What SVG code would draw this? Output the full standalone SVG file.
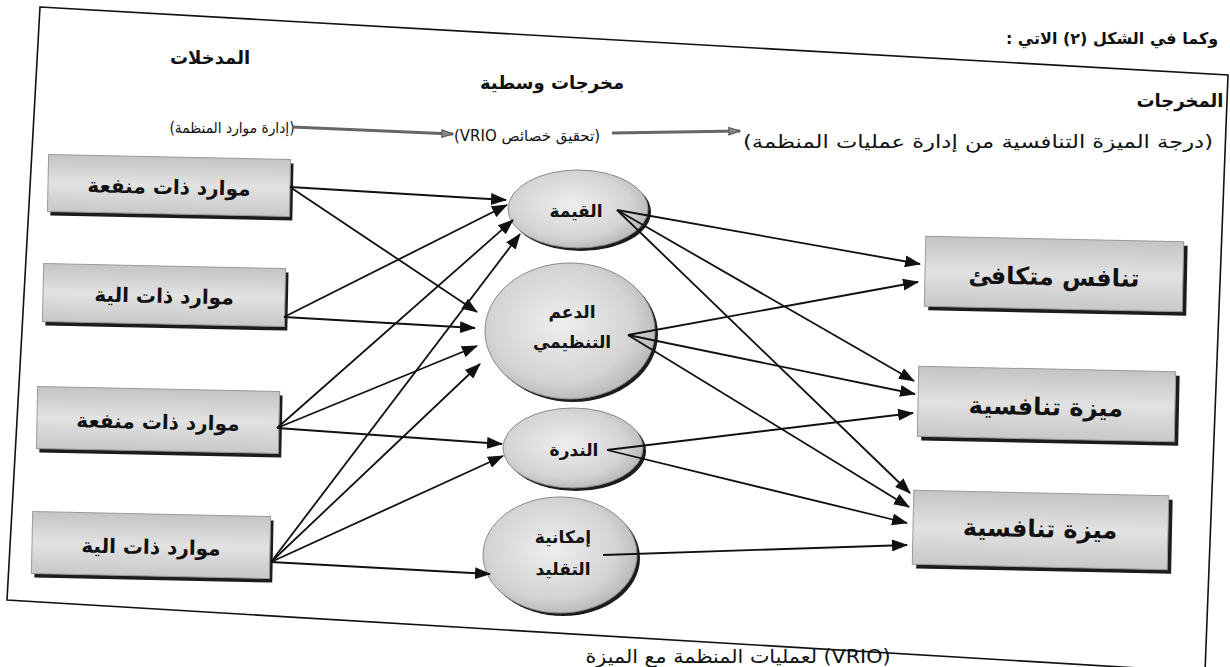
<svg xmlns="http://www.w3.org/2000/svg" width="1230" height="667" viewBox="0 0 1230 667">
<defs>
<linearGradient id="boxGrad" x1="0" y1="0" x2="0" y2="1">
<stop offset="0" stop-color="#c4c4c4"/>
<stop offset="0.5" stop-color="#e2e2e2"/>
<stop offset="1" stop-color="#c8c8c8"/>
</linearGradient>
<radialGradient id="ellGrad" cx="0.45" cy="0.45" r="0.6">
<stop offset="0" stop-color="#eeeeee"/>
<stop offset="0.7" stop-color="#d4d4d4"/>
<stop offset="1" stop-color="#b4b4b4"/>
</radialGradient>
<marker id="arr" viewBox="0 0 16 12" refX="15" refY="6" markerWidth="16" markerHeight="12" markerUnits="userSpaceOnUse" orient="auto">
<path d="M0,0 L16,6 L0,12 z" fill="#111"/>
</marker>
<marker id="garr" viewBox="0 0 14 10" refX="13" refY="5" markerWidth="13" markerHeight="10" markerUnits="userSpaceOnUse" orient="auto">
<path d="M1,1 L13,5 L1,9 z" fill="#888" stroke="#555" stroke-width="1.2"/>
</marker>
</defs>
<style>
.ar{font-family:"DejaVu Sans","Noto Sans",sans-serif;fill:#111;direction:rtl;text-anchor:middle}
.hd{font-size:18px;font-weight:bold}
.sub{font-size:15px}
.lt{font-size:20px;font-weight:bold}
.rt{font-size:24px;font-weight:bold}
.et{font-size:17px;font-weight:bold}
.shadow{fill:#1c1c1c}
.box{fill:url(#boxGrad);stroke:#9a9a9a;stroke-width:1}
.ell{fill:url(#ellGrad);stroke:#8a8a8a;stroke-width:1}
.conn line{stroke:#111;stroke-width:1.8;marker-end:url(#arr)}
.top line{stroke:#666;stroke-width:3;marker-end:url(#garr)}
</style>
<rect x="0" y="0" width="1230" height="667" fill="#ffffff"/>
<polygon id="frame" points="40,7 1228,75 1205,672 7,600" fill="none" stroke="#111" stroke-width="1.6"/>

<g id="headers">
<text class="ar hd" x="1112" y="44" style="font-size:16px">وكما في الشكل (٢) الاتي :</text>
<text class="ar hd" x="210" y="64">المدخلات</text>
<text class="ar hd" x="552" y="89">مخرجات وسطية</text>
<text class="ar hd" x="1180" y="107">المخرجات</text>
<text class="ar sub" x="232" y="133" textLength="125" lengthAdjust="spacingAndGlyphs">(إدارة موارد المنظمة)</text>
<text class="ar sub" x="527" y="141">(تحقيق خصائص VRIO)</text>
<text class="ar sub" x="978" y="148" style="font-size:18px" textLength="470" lengthAdjust="spacingAndGlyphs">(درجة الميزة التنافسية من إدارة عمليات المنظمة)</text>
<text class="ar sub" x="738" y="663" style="font-size:19px" textLength="305" lengthAdjust="spacingAndGlyphs">(VRIO) لعمليات المنظمة مع الميزة</text>
</g>

<g id="top-arrows" class="top">
<line x1="292" y1="127" x2="453" y2="134"/>
<line x1="612" y1="133" x2="740" y2="131"/>
</g>

<g id="L1" transform="rotate(1.2 169 186)">
<rect class="shadow" x="51" y="161" width="242" height="57"/>
<rect class="box" x="48" y="157" width="242" height="57"/>
<text class="ar lt" x="169" y="194">موارد ذات منفعة</text>
</g>
<g id="L2" transform="rotate(1.2 164 296)">
<rect class="shadow" x="46" y="270" width="242" height="58"/>
<rect class="box" x="43" y="266" width="242" height="58"/>
<text class="ar lt" x="164" y="303">موارد ذات الية</text>
</g>
<g id="L3" transform="rotate(1.2 158 421)">
<rect class="shadow" x="40" y="393" width="242" height="62"/>
<rect class="box" x="37" y="389" width="242" height="62"/>
<text class="ar lt" x="158" y="429">موارد ذات منفعة</text>
</g>
<g id="L4" transform="rotate(1.2 151 546)">
<rect class="shadow" x="35" y="518" width="238" height="62"/>
<rect class="box" x="32" y="514" width="238" height="62"/>
<text class="ar lt" x="151" y="554">موارد ذات الية</text>
</g>

<g id="E1">
<ellipse class="shadow" cx="581" cy="212" rx="70" ry="39"/>
<ellipse class="ell" cx="578" cy="209" rx="70" ry="39"/>
<text class="ar et" x="576" y="217">القيمة</text>
</g>
<g id="E2">
<ellipse class="shadow" cx="573" cy="334" rx="85" ry="68"/>
<ellipse class="ell" cx="570" cy="331" rx="85" ry="68"/>
<text class="ar et" x="572" y="318">الدعم</text>
<text class="ar et" x="572" y="348">التنظيمي</text>
</g>
<g id="E3">
<ellipse class="shadow" cx="576" cy="451" rx="70" ry="40"/>
<ellipse class="ell" cx="573" cy="448" rx="70" ry="40"/>
<text class="ar et" x="574" y="456">الندرة</text>
</g>
<g id="E4">
<ellipse class="shadow" cx="563" cy="558" rx="77" ry="58"/>
<ellipse class="ell" cx="560" cy="555" rx="77" ry="58"/>
<text class="ar et" x="563" y="543">إمكانية</text>
<text class="ar et" x="563" y="575">التقليد</text>
</g>

<g id="R1" transform="rotate(1.2 1054 275)">
<rect class="shadow" x="929" y="243" width="258" height="70"/>
<rect class="box" x="925" y="239" width="258" height="70"/>
<text class="ar rt" x="1054" y="285">تنافس متكافئ</text>
</g>
<g id="R2" transform="rotate(1.2 1046 405)">
<rect class="shadow" x="922" y="373" width="257" height="70"/>
<rect class="box" x="918" y="369" width="257" height="70"/>
<text class="ar rt" x="1046" y="415">ميزة تنافسية</text>
</g>
<g id="R3" transform="rotate(1.2 1040 530)">
<rect class="shadow" x="917" y="497" width="255" height="74"/>
<rect class="box" x="913" y="493" width="255" height="74"/>
<text class="ar rt" x="1040" y="537">ميزة تنافسية</text>
</g>

<g id="connectors" class="conn">
<line x1="290" y1="187" x2="506" y2="200"/>
<line x1="290" y1="187" x2="477" y2="312"/>
<line x1="284" y1="317" x2="507" y2="205"/>
<line x1="284" y1="317" x2="475" y2="328"/>
<line x1="277" y1="428" x2="513" y2="220"/>
<line x1="277" y1="428" x2="477" y2="346"/>
<line x1="277" y1="428" x2="502" y2="444"/>
<line x1="271" y1="562" x2="520" y2="234"/>
<line x1="271" y1="562" x2="480" y2="364"/>
<line x1="271" y1="562" x2="503" y2="456"/>
<line x1="271" y1="562" x2="490" y2="574"/>
<line x1="617" y1="210" x2="920" y2="264"/>
<line x1="617" y1="210" x2="914" y2="381"/>
<line x1="617" y1="210" x2="910" y2="493"/>
<line x1="628" y1="335" x2="918" y2="282"/>
<line x1="628" y1="335" x2="915" y2="394"/>
<line x1="628" y1="335" x2="909" y2="507"/>
<line x1="607" y1="450" x2="913" y2="413"/>
<line x1="607" y1="450" x2="907" y2="523"/>
<line x1="603" y1="555" x2="907" y2="545"/>
</g>
</svg>
